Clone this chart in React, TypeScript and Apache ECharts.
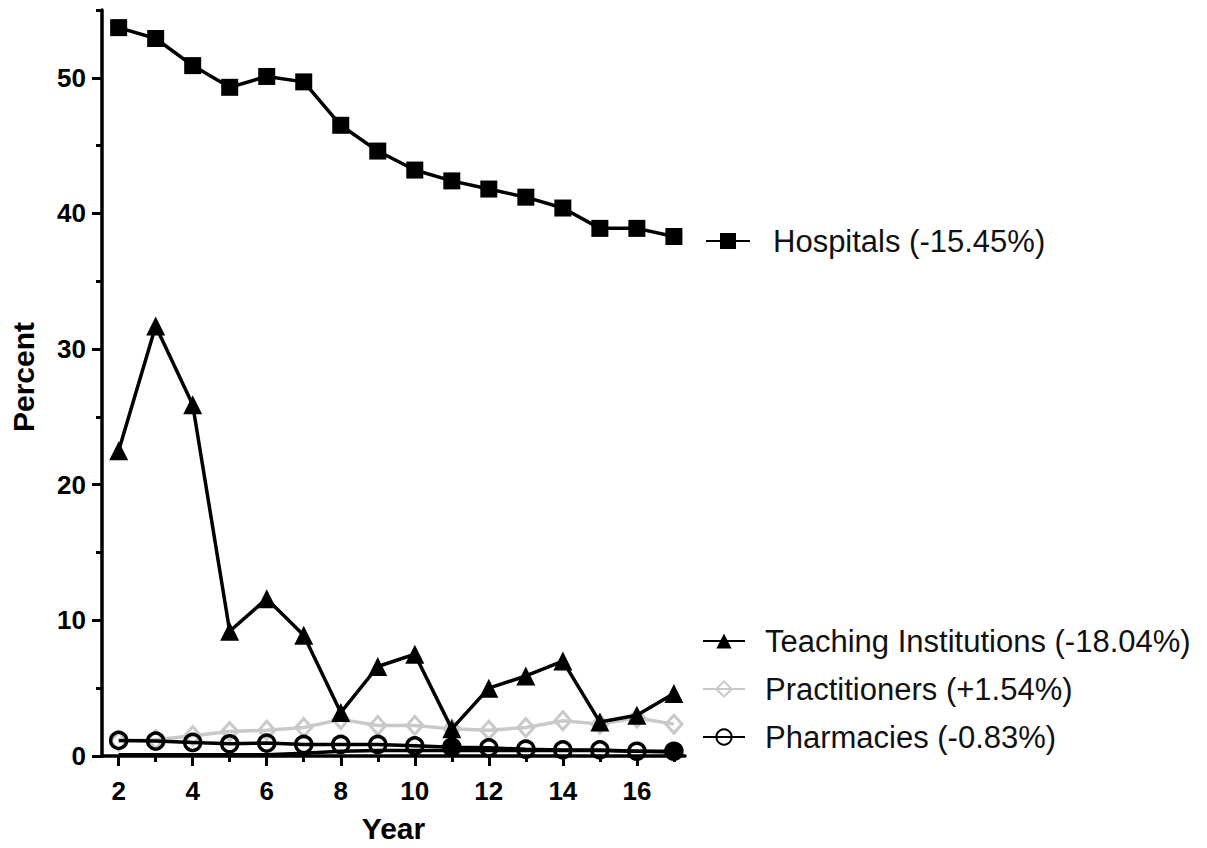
import React, { useEffect, useRef } from "react";
import * as echarts from "echarts";

const years = [2, 3, 4, 5, 6, 7, 8, 9, 10, 11, 12, 13, 14, 15, 16, 17];
const hospitals = [53.7, 52.9, 50.9, 49.3, 50.1, 49.7, 46.5, 44.6, 43.2, 42.4, 41.8, 41.2, 40.4, 38.9, 38.9, 38.3];
const teaching = [22.5, 31.7, 25.9, 9.2, 11.6, 8.9, 3.2, 6.6, 7.5, 2.0, 5.0, 5.9, 7.0, 2.5, 3.0, 4.6];
const practitioners = [1.1, 1.2, 1.5, 1.8, 1.9, 2.1, 2.7, 2.25, 2.25, 2.0, 1.9, 2.1, 2.6, 2.35, 2.8, 2.35];
const pharmacies = [1.15, 1.1, 1.0, 0.9, 0.95, 0.85, 0.85, 0.85, 0.75, 0.65, 0.6, 0.5, 0.45, 0.45, 0.35, 0.35];
const other = [0.1, 0.1, 0.1, 0.1, 0.1, 0.2, 0.35, 0.4, 0.4, 0.4, 0.4, 0.4, 0.4, 0.4, 0.35, 0.3];
const filledPharmacyYears = [11, 17];

const names = {
  hospitals: "Hospitals (-15.45%)",
  teaching: "Teaching Institutions (-18.04%)",
  practitioners: "Practitioners (+1.54%)",
  pharmacies: "Pharmacies (-0.83%)",
};

const xMajor = [2, 4, 6, 8, 10, 12, 14, 16];
const xMinor = [3, 5, 7, 9, 11, 13, 15, 17];
const yMajor = [0, 10, 20, 30, 40, 50];
const yMinor = [5, 15, 25, 35, 45, 55];

const FONT = "'Liberation Sans', Arial, sans-serif";
const GRAY = "#c9c9c9";

export default function App() {
  const ref = useRef<HTMLDivElement>(null);
  useEffect(() => {
    if (!ref.current) return;
    const chart = echarts.init(ref.current, null, { renderer: "svg" });
    const pair = (arr: number[]) => years.map((y, i) => [y, arr[i]]);
    const axisLine = { show: true, lineStyle: { color: "#000", width: 3.5 } };
    const option: any = {
      animation: false,
      backgroundColor: "#fff",
      grid: { left: 102, top: 10, width: 583, height: 751, containLabel: false },
      xAxis: [
        {
          type: "value",
          min: 1.55,
          max: 17.3,
          axisLine,
          splitLine: { show: false },
          axisTick: { show: true, customValues: xMajor, length: 10, lineStyle: { width: 3, color: "#000" } },
          axisLabel: { customValues: xMajor, margin: 22, fontSize: 26, fontWeight: "bold", color: "#000", fontFamily: FONT },
          name: "Year",
          nameLocation: "middle",
          nameGap: 57,
          nameTextStyle: { fontSize: 30, fontWeight: "bold", color: "#000", fontFamily: FONT },
        },
        {
          type: "value",
          min: 1.55,
          max: 17.3,
          position: "bottom",
          axisLine: { show: false },
          splitLine: { show: false },
          axisTick: { show: true, customValues: xMinor, length: 6, lineStyle: { width: 3, color: "#000" } },
          axisLabel: { show: false },
        },
      ],
      yAxis: [
        {
          type: "value",
          min: 0,
          max: 55,
          axisLine,
          splitLine: { show: false },
          axisTick: { show: true, customValues: yMajor, length: 10, lineStyle: { width: 3, color: "#000" } },
          axisLabel: { customValues: yMajor, margin: 16, fontSize: 26, fontWeight: "bold", color: "#000", fontFamily: FONT },
          name: "Percent",
          nameLocation: "middle",
          nameGap: 64,
          nameTextStyle: { fontSize: 30, fontWeight: "bold", color: "#000", fontFamily: FONT, padding: [0, 0, 0, 12] },
        },
        {
          type: "value",
          min: 0,
          max: 55,
          position: "left",
          axisLine: { show: false },
          splitLine: { show: false },
          axisTick: { show: true, customValues: yMinor, length: 6, lineStyle: { width: 3, color: "#000" } },
          axisLabel: { show: false },
        },
      ],
      legend: [
        {
          data: [names.hospitals],
          left: 700,
          top: 218,
          itemWidth: 44,
          itemHeight: 20,
          selectedMode: false,
          textStyle: { fontSize: 31, lineHeight: 36, color: "#111", fontFamily: FONT, padding: [0, 0, 0, 18] },
        },
        {
          data: [names.teaching, names.practitioners, names.pharmacies],
          orient: "vertical",
          left: 697,
          top: 619,
          itemWidth: 42,
          itemHeight: 19,
          itemGap: 14,
          selectedMode: false,
          textStyle: { fontSize: 31, lineHeight: 34, color: "#111", fontFamily: FONT, padding: [0, 0, 0, 15] },
        },
      ],
      series: [
        {
          name: "Other",
          type: "line",
          data: pair(other),
          showSymbol: false,
          symbol: "none",
          lineStyle: { color: "#000", width: 3.5 },
          itemStyle: { color: "#000" },
          z: 1,
        },
        {
          name: names.practitioners,
          type: "line",
          data: pair(practitioners),
          symbol: "diamond",
          symbolSize: [16, 18],
          lineStyle: { color: GRAY, width: 3.5 },
          itemStyle: { color: "rgba(255,255,255,0)", borderColor: GRAY, borderWidth: 3 },
          z: 2,
        },
        {
          name: names.pharmacies,
          type: "line",
          data: years.map((y, i) =>
            filledPharmacyYears.includes(y)
              ? { value: [y, pharmacies[i]], itemStyle: { color: "#000" } }
              : [y, pharmacies[i]]
          ),
          symbol: "circle",
          symbolSize: 16,
          lineStyle: { color: "#000", width: 3.5 },
          itemStyle: { color: "rgba(255,255,255,0)", borderColor: "#000", borderWidth: 3.5 },
          z: 3,
        },
        {
          name: names.teaching,
          type: "line",
          data: pair(teaching),
          symbol: "triangle",
          symbolSize: 19,
          lineStyle: { color: "#000", width: 3.5 },
          itemStyle: { color: "#000" },
          z: 4,
        },
        {
          name: names.hospitals,
          type: "line",
          data: pair(hospitals),
          symbol: "rect",
          symbolSize: 17,
          lineStyle: { color: "#000", width: 3.5 },
          itemStyle: { color: "#000" },
          z: 5,
        },
      ],
    };
    chart.setOption(option);
    return () => chart.dispose();
  }, []);
  return (
    <div
      ref={ref}
      style={{ position: "fixed", left: 0, top: 0, width: 1207, height: 848, background: "#fff" }}
    />
  );
}
